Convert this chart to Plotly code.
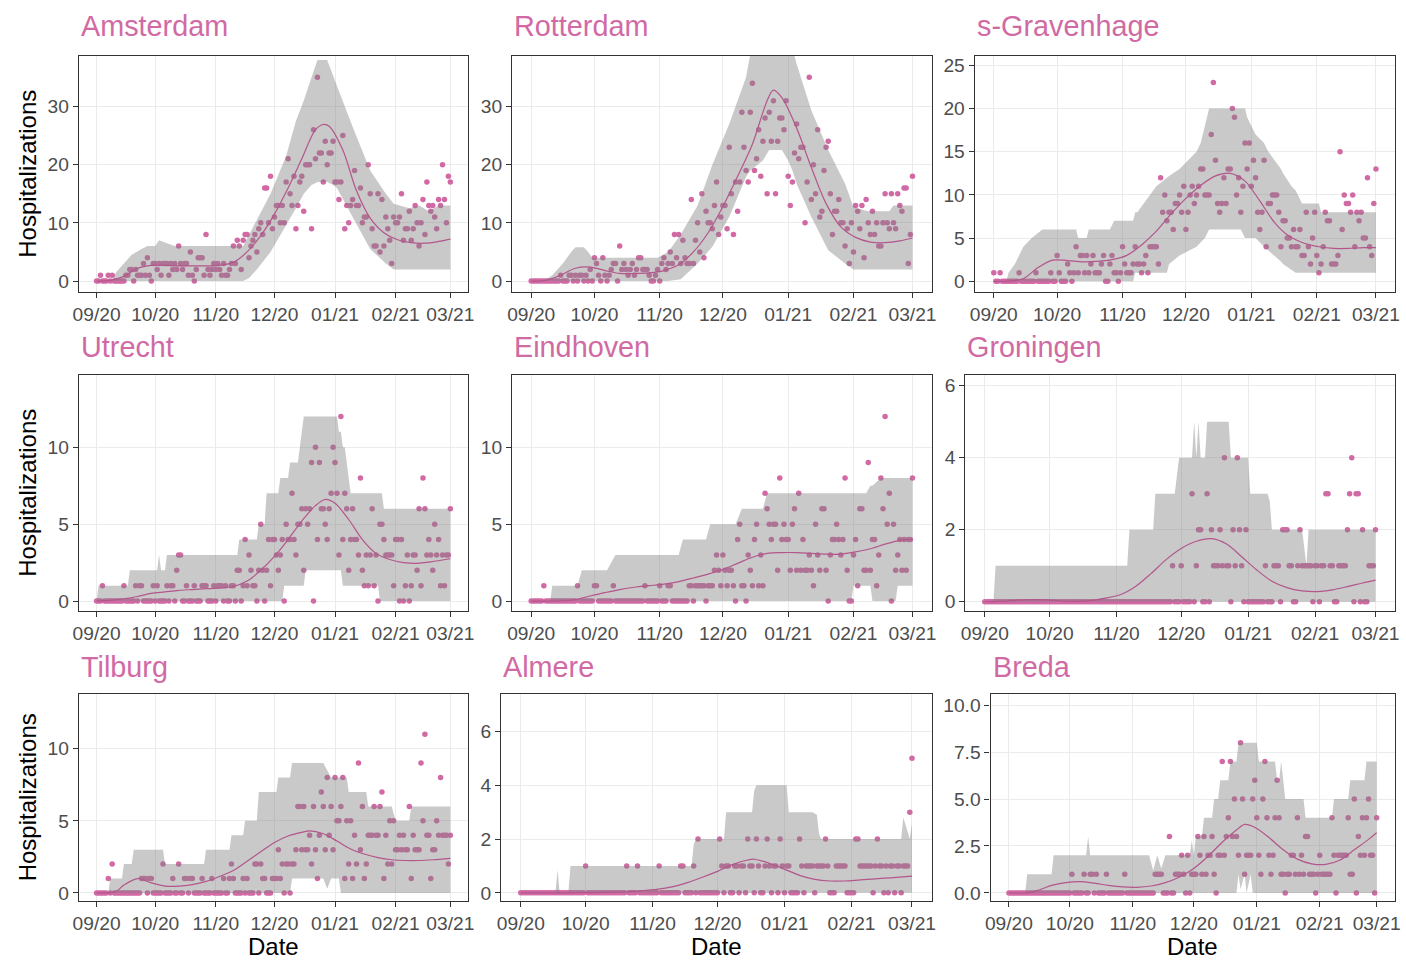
import datetime as dt
import plotly.graph_objects as go

# ---------------------------------------------------------------------------
# Daily hospitalizations, 2020-09-01 .. 2021-03-01 (182 days), per city
# ---------------------------------------------------------------------------
START = dt.datetime(2020, 9, 1)
N_DAYS = 182

MONTH_TICKS = ["2020-09-01", "2020-10-01", "2020-11-01", "2020-12-01",
               "2021-01-01", "2021-02-01", "2021-03-01"]
MONTH_LABELS = ["09/20", "10/20", "11/20", "12/20", "01/21", "02/21", "03/21"]

CITIES = ["Amsterdam", "Rotterdam", "s-Gravenhage", "Utrecht", "Eindhoven",
          "Groningen", "Tilburg", "Almere", "Breda"]

AMS_OBS = [
    0, 0, 1, 0, 0, 0, 1, 0, 1, 0,
    0, 0, 0, 0, 0, 1, 1, 2, 2, 0,
    2, 1, 1, 1, 3, 1, 4, 1, 0, 3,
    3, 2, 3, 1, 3, 3, 3, 1, 3, 2,
    3, 2, 6, 3, 2, 3, 3, 1, 5, 1,
    0, 2, 4, 4, 4, 1, 8, 2, 1, 2,
    3, 2, 3, 2, 1, 3, 1, 1, 2, 3,
    6, 3, 7, 6, 2, 7, 8, 8, 4, 6,
    7, 8, 5, 9, 10, 8, 16, 16, 10, 18,
    9, 11, 13, 13, 10, 13, 10, 17, 21, 15,
    13, 18, 9, 13, 17, 18, 12, 20, 20, 20,
    9, 26, 21, 35, 22, 22, 17, 24, 20, 22,
    22, 24, 17, 17, 14, 17, 25, 9, 13, 10,
    13, 14, 19, 13, 13, 16, 10, 11, 11, 20,
    15, 9, 6, 6, 15, 5, 14, 6, 11, 9,
    7, 3, 11, 10, 10, 11, 15, 7, 9, 9,
    12, 7, 9, 13, 10, 6, 10, 14, 8, 17,
    13, 12, 13, 11, 9, 14, 13, 20, 14, 10, 18, 17,
]
AMS_FIT_DAY = [0, 7, 14, 21, 28, 35, 42, 49, 56, 63, 70, 77, 84, 91, 98, 105,
               112, 116, 119, 126, 133, 140, 147, 154, 161, 168, 175, 181]
AMS_FIT = [0.0, 0.1, 0.8, 2.2, 2.7, 2.7, 2.6, 2.6, 2.6, 2.7, 3.2, 5.0, 7.8, 11.5,
           16.0, 21.0, 26.0, 26.9, 26.6, 22.5, 15.5, 10.8, 8.3, 7.1, 6.6, 6.5,
           6.8, 7.2]
AMS_BAND_DAY = [0, 8, 10, 14, 18, 23, 26, 30, 32, 36, 40, 75, 78, 82, 89, 97,
                102, 106, 110, 113, 118, 121, 123, 131, 140, 148, 152, 160, 165,
                170, 175, 181]
AMS_BAND_LO = [0, 0, 0, 0, 0, 0, 0, 0, 0, 0, 0, 0, 0.5, 2, 5, 9.5, 12.5, 15,
               16.5, 17, 17, 16.5, 16, 11, 5.5, 3, 2, 2, 2, 2, 2, 2]
AMS_BAND_HI = [0, 0, 1.5, 3, 4.5, 5.5, 6, 6, 7, 6.5, 6, 6, 8, 10.5, 15, 21.5,
               27.5, 31, 35, 38, 38, 35.5, 33.5, 26.5, 19, 15, 13.3, 12.5, 13,
               12, 13, 13]

ROT_OBS = [
    0, 0, 0, 0, 0, 0, 0, 0, 0, 0,
    0, 0, 0, 0, 1, 0, 0, 0, 1, 1,
    0, 1, 0, 1, 1, 0, 1, 0, 2, 0,
    4, 3, 1, 0, 4, 1, 0, 1, 2, 3,
    3, 0, 6, 2, 3, 2, 1, 2, 3, 1,
    2, 4, 4, 2, 2, 2, 1, 0, 0, 1,
    2, 0, 3, 4, 2, 3, 5, 3, 8, 4,
    8, 3, 7, 4, 3, 3, 14, 3, 7, 10,
    5, 15, 4, 12, 10, 10, 9, 13, 17, 8,
    11, 13, 13, 9, 23, 15, 8, 17, 12, 17,
    29, 23, 19, 17, 29, 34, 19, 21, 26, 18,
    24, 28, 15, 29, 24, 31, 15, 24, 28, 28,
    26, 31, 18, 13, 17, 22, 27, 21, 23, 23,
    10, 17, 35, 14, 20, 15, 26, 11, 12, 19,
    23, 24, 15, 8, 12, 12, 14, 10, 10, 6,
    9, 3, 10, 5, 13, 12, 9, 13, 4, 14,
    10, 8, 12, 8, 10, 6, 6, 10, 15, 10,
    9, 15, 10, 9, 15, 13, 12, 16, 16, 3, 8, 18,
]
ROT_FIT_DAY = [0, 7, 14, 21, 28, 35, 42, 49, 56, 63, 70, 77, 84, 91, 98, 105,
               112, 115, 119, 126, 133, 140, 147, 154, 161, 168, 175, 181]
ROT_FIT = [0.0, 0.1, 1.0, 2.2, 2.4, 1.8, 1.3, 1.3, 1.4, 1.8, 2.8, 5.0, 8.3, 12.8,
           18.0, 23.5, 31.0, 32.8, 31.5, 26.3, 19.5, 13.3, 9.3, 7.5, 6.7, 6.6,
           6.9, 7.4]
ROT_BAND_DAY = [0, 6, 10, 15, 19, 21, 25, 27, 29, 60, 65, 71, 79, 86, 94, 102,
                104, 110, 113, 119, 122, 124, 126, 133, 141, 149, 153, 160, 170,
                172, 181]
ROT_BAND_LO = [0, 0, 0, 0, 0, 0, 0, 0, 0, 0, 0, 0.3, 3, 5.9, 11, 17.9, 19, 20.7,
               22.5, 22.5, 20.7, 19, 16.7, 11, 5.3, 3, 2, 2, 2, 2, 2]
ROT_BAND_HI = [0, 0, 1, 3, 5, 5.8, 5.8, 5, 4, 4, 5, 8, 13, 20, 27, 35, 39, 42,
               42, 42, 42, 40, 37.3, 29.3, 22.5, 16.7, 12.7, 12, 12, 13, 13]

SGR_OBS = [
    1, 0, 0, 1, 0, 0, 0, 0, 0, 0,
    0, 0, 1, 0, 0, 0, 0, 0, 0, 0,
    1, 0, 0, 0, 0, 0, 0, 1, 0, 0,
    3, 1, 0, 0, 0, 2, 1, 0, 1, 4,
    1, 3, 3, 1, 3, 1, 2, 3, 1, 1,
    1, 2, 3, 0, 0, 2, 3, 1, 1, 0,
    1, 4, 2, 1, 1, 1, 2, 4, 2, 2,
    1, 2, 3, 1, 4, 4, 4, 4, 2, 12,
    8, 10, 7, 8, 8, 6, 9, 9, 10, 8,
    11, 6, 8, 10, 11, 9, 10, 11, 13, 13,
    10, 10, 10, 17, 23, 14, 9, 8, 9, 12,
    9, 13, 13, 20, 19, 10, 12, 8, 11, 16,
    13, 16, 11, 14, 12, 8, 6, 8, 14, 4,
    9, 9, 10, 10, 10, 8, 4, 7, 7, 5,
    5, 4, 6, 4, 4, 6, 3, 3, 8, 4,
    2, 5, 8, 3, 1, 2, 4, 8, 7, 7,
    2, 2, 2, 3, 15, 6, 10, 9, 9, 8,
    10, 4, 8, 7, 8, 5, 5, 12, 4, 3, 9, 13,
]
SGR_FIT_DAY = [0, 7, 14, 21, 28, 35, 42, 49, 56, 63, 70, 77, 84, 91, 98, 105,
               112, 119, 126, 133, 140, 147, 154, 161, 168, 175, 181]
SGR_FIT = [0.0, 0.02, 0.3, 1.6, 2.45, 2.4, 2.25, 2.3, 2.5, 3.0, 4.2, 5.8, 7.8,
           9.6, 11.1, 12.2, 12.5, 11.6, 9.3, 6.8, 5.2, 4.4, 4.0, 3.8, 3.8, 3.9,
           3.9]
SGR_BAND_DAY = [0, 6, 7, 10, 12, 14, 18, 23, 39, 40, 44, 45, 55, 57, 66, 67, 68,
                74, 77, 82, 83, 88, 96, 98, 100, 102, 117, 119, 120, 124, 128,
                130, 133, 136, 137, 141, 143, 144, 146, 154, 155, 181]
SGR_BAND_LO = [0, 0, 0, 0, 0, 0, 0, 0, 0, 0, 0, 0, 0, 0, 0, 1, 1, 1, 1, 1, 2, 3,
               4, 4.5, 5, 6, 6, 5, 5, 5, 4, 3.6, 3, 2.3, 2, 1.3, 1, 1, 1, 1, 1, 1]
SGR_BAND_HI = [0, 0, 1, 2, 3, 4, 5, 6, 6, 5, 5, 6, 6, 7, 7, 8, 8, 10, 11, 12,
               12.2, 13, 15, 16, 18, 20, 20, 20, 19, 17, 16, 15, 14, 13, 12.5,
               11, 10.5, 10, 9, 9, 8, 8]

UTR_OBS = [
    0, 0, 0, 1, 0, 0, 0, 0, 0, 0,
    0, 0, 0, 0, 1, 0, 0, 0, 0, 0,
    1, 0, 1, 1, 0, 0, 0, 0, 0, 1,
    0, 1, 0, 0, 0, 0, 1, 0, 1, 1,
    0, 2, 3, 3, 0, 0, 1, 0, 0, 0,
    1, 0, 0, 0, 1, 1, 1, 0, 0, 0,
    1, 0, 1, 1, 1, 0, 1, 0, 0, 1,
    1, 0, 2, 2, 0, 1, 4, 1, 3, 2,
    1, 1, 0, 2, 5, 2, 0, 2, 4, 1,
    4, 4, 3, 2, 3, 4, 0, 5, 4, 4,
    7, 4, 3, 5, 5, 6, 2, 6, 5, 6,
    9, 0, 10, 4, 9, 6, 6, 5, 4, 6,
    7, 10, 9, 7, 3, 12, 4, 7, 6, 2,
    4, 6, 4, 4, 3, 8, 2, 1, 3, 1,
    3, 6, 1, 3, 0, 5, 5, 4, 3, 3,
    3, 3, 1, 4, 4, 0, 4, 0, 1, 3,
    0, 1, 3, 3, 2, 6, 1, 8, 6, 3,
    4, 3, 2, 5, 3, 4, 1, 3, 1, 3, 3, 6,
]
UTR_FIT_DAY = [0, 7, 14, 21, 28, 35, 42, 49, 56, 63, 70, 77, 84, 91, 98, 105,
               112, 117, 122, 129, 136, 143, 150, 157, 164, 171, 181]
UTR_FIT = [0.0, 0.05, 0.15, 0.3, 0.5, 0.6, 0.7, 0.75, 0.8, 0.85, 0.95, 1.3, 2.0,
           2.9, 4.0, 5.2, 6.2, 6.6, 6.35, 5.3, 4.0, 3.1, 2.7, 2.5, 2.45, 2.55,
           2.75]
UTR_BAND_DAY = [0, 1, 16, 17, 31, 32, 33, 35, 36, 72, 73, 82, 83, 86, 87, 93, 94,
                95, 96, 98, 99, 103, 104, 105, 106, 107, 123, 124, 125, 126, 127,
                128, 129, 130, 144, 145, 146, 147, 181]
UTR_BAND_LO = [0, 0, 0, 0, 0, 0, 0, 0, 0, 0, 0, 0, 0, 0, 0, 0, 0, 0,
               1, 1, 1, 1, 1, 1, 1, 2, 2, 2, 2, 1, 1, 1, 1, 1, 1, 0, 0, 0, 0]
UTR_BAND_HI = [0, 1, 1, 2, 2, 3, 2, 2, 3, 3, 4, 4, 5, 5, 7, 7, 8, 8, 8, 8, 9, 9,
               10, 11, 12, 12, 12, 11, 11, 10, 10, 9, 8, 7, 7, 7, 7, 6, 6]

EIN_OBS = [
    0, 0, 0, 0, 0, 0, 1, 0, 0, 0,
    0, 0, 0, 0, 0, 0, 0, 0, 0, 0,
    0, 0, 1, 0, 0, 0, 0, 0, 0, 0,
    1, 1, 0, 0, 0, 0, 0, 0, 0, 1,
    0, 0, 0, 0, 0, 0, 0, 0, 0, 0,
    0, 0, 0, 0, 1, 0, 0, 0, 0, 0,
    0, 1, 0, 0, 0, 1, 1, 0, 0, 0,
    0, 0, 0, 0, 0, 1, 1, 0, 1, 1,
    1, 1, 1, 0, 1, 1, 1, 2, 3, 2,
    1, 3, 2, 1, 2, 2, 1, 0, 4, 5,
    1, 1, 0, 3, 2, 1, 4, 5, 1, 3,
    1, 7, 6, 5, 4, 5, 5, 2, 8, 4,
    5, 4, 4, 2, 5, 6, 2, 7, 2, 4,
    2, 2, 3, 2, 1, 5, 3, 2, 6, 6,
    2, 0, 3, 4, 4, 5, 4, 3, 4, 8,
    2, 0, 0, 3, 4, 1, 6, 6, 2, 2,
    9, 2, 4, 4, 1, 3, 8, 6, 12, 5,
    7, 0, 5, 2, 3, 4, 2, 4, 2, 4, 4, 8,
]
EIN_FIT_DAY = [0, 7, 14, 21, 28, 35, 42, 49, 56, 63, 70, 77, 84, 91, 98, 105,
               112, 119, 126, 133, 140, 147, 154, 161, 168, 175, 181]
EIN_FIT = [0.0, 0.0, 0.02, 0.1, 0.33, 0.55, 0.75, 0.9, 1.0, 1.1, 1.27, 1.5, 1.75,
           2.05, 2.45, 2.85, 3.1, 3.15, 3.15, 3.1, 3.05, 3.05, 3.2, 3.4, 3.7,
           3.95, 4.0]
EIN_BAND_DAY = [0, 9, 10, 22, 24, 36, 38, 40, 70, 72, 83, 85, 97, 100, 110, 112,
                152, 153, 159, 161, 162, 166, 173, 174, 181]
EIN_BAND_LO = [0, 0, 0, 0, 0, 0, 0, 0, 0, 0, 0, 0, 0, 0, 0, 0, 0,
               1, 1, 1, 0, 0, 0, 1, 1]
EIN_BAND_HI = [0, 0, 1, 1, 2, 2, 2.5, 3, 3, 4, 4, 5, 5, 6, 6, 7, 7, 7, 7, 7.5,
               7.5, 8, 8, 8, 8]

GRO_OBS = [
    0, 0, 0, 0, 0, 0, 0, 0, 0, 0,
    0, 0, 0, 0, 0, 0, 0, 0, 0, 0,
    0, 0, 0, 0, 0, 0, 0, 0, 0, 0,
    0, 0, 0, 0, 0, 0, 0, 0, 0, 0,
    0, 0, 0, 0, 0, 0, 0, 0, 0, 0,
    0, 0, 0, 0, 0, 0, 0, 0, 0, 0,
    0, 0, 0, 0, 0, 0, 0, 0, 0, 0,
    0, 0, 0, 0, 0, 0, 0, 0, 0, 0,
    0, 0, 0, 0, 0, 0, 0, 1, 0, 0,
    0, 1, 0, 0, 0, 0, 3, 0, 1, 2,
    2, 0, 0, 3, 0, 2, 1, 1, 1, 2,
    1, 4, 1, 1, 0, 2, 1, 4, 2, 1,
    0, 2, 0, 0, 0, 0, 0, 0, 0, 0,
    1, 0, 0, 0, 1, 1, 1, 0, 2, 2,
    2, 1, 1, 0, 0, 1, 2, 1, 1, 1,
    1, 1, 0, 1, 1, 0, 1, 1, 3, 3,
    1, 1, 0, 0, 1, 1, 1, 1, 2, 3,
    4, 0, 3, 3, 0, 2, 0, 0, 1, 1, 1, 2,
]
GRO_FIT_DAY = [0, 7, 14, 21, 28, 35, 42, 49, 56, 63, 70, 77, 84, 91, 98, 105,
               112, 119, 126, 133, 140, 147, 154, 161, 168, 175, 181]
GRO_FIT = [0.0, 0.01, 0.04, 0.06, 0.05, 0.02, 0.01, 0.03, 0.1, 0.2, 0.43, 0.78,
           1.17, 1.48, 1.68, 1.75, 1.6, 1.25, 0.88, 0.57, 0.39, 0.3, 0.28, 0.33,
           0.42, 0.52, 0.6]
GRO_BAND_DAY = [0, 4, 5, 66, 67, 78, 79, 88, 90, 96, 97, 98, 99, 100, 102, 103,
                113, 114, 122, 123, 131, 132, 133, 134, 147, 149, 150, 181]
GRO_BAND_LO = [0, 0, 0, 0, 0, 0, 0, 0, 0, 0, 0, 0, 0, 0, 0, 0, 0, 0, 0, 0, 0, 0,
               0, 0, 0, 0, 0, 0]
GRO_BAND_HI = [0, 0, 1, 1, 2, 2, 3, 3, 4, 4, 5, 4, 5, 4, 4, 5, 5, 4, 4, 3, 3,
               2.8, 2, 2, 2, 1, 2, 2]

TIL_OBS = [
    0, 0, 0, 0, 0, 0, 1, 0, 2, 0,
    0, 0, 0, 0, 0, 0, 0, 0, 0, 0,
    0, 0, 0, 1, 1, 1, 0, 1, 1, 0,
    0, 0, 0, 0, 2, 0, 0, 0, 0, 1,
    0, 0, 2, 0, 0, 1, 1, 0, 1, 1,
    0, 0, 0, 0, 1, 0, 0, 0, 0, 1,
    0, 0, 0, 0, 0, 1, 0, 0, 1, 2,
    1, 0, 0, 0, 0, 1, 0, 1, 0, 0,
    0, 2, 2, 0, 2, 1, 1, 0, 0, 0,
    1, 1, 1, 3, 1, 2, 0, 2, 2, 0,
    2, 2, 3, 6, 6, 3, 6, 3, 3, 4,
    2, 6, 3, 1, 4, 7, 6, 3, 8, 4,
    6, 3, 8, 5, 5, 6, 8, 1, 5, 2,
    5, 1, 4, 2, 9, 3, 6, 1, 2, 4,
    4, 4, 6, 4, 4, 6, 7, 1, 4, 2,
    5, 2, 5, 3, 3, 4, 3, 4, 3, 3,
    6, 1, 4, 3, 3, 3, 9, 5, 11, 4,
    4, 1, 3, 3, 5, 4, 8, 4, 4, 4, 2, 4,
]
TIL_FIT_DAY = [0, 7, 10, 14, 21, 28, 35, 42, 49, 56, 63, 70, 77, 84, 91, 98, 105,
               109, 116, 123, 130, 137, 144, 151, 158, 165, 172, 181]
TIL_FIT = [0.0, 0.02, 0.1, 0.55, 1.0, 0.7, 0.48, 0.47, 0.58, 0.8, 1.15, 1.55,
           2.2, 2.85, 3.5, 3.95, 4.2, 4.3, 4.1, 3.6, 3.05, 2.7, 2.45, 2.3, 2.25,
           2.25, 2.3, 2.4]
TIL_BAND_DAY = [0, 6, 7, 13, 14, 18, 19, 34, 35, 55, 56, 68, 69, 75, 76, 82, 83,
                92, 93, 99, 100, 116, 118, 120, 124, 125, 128, 129, 138, 139, 151,
                153, 160, 161, 181]
TIL_BAND_LO = [0, 0, 0, 0, 0, 0, 0, 0, 0, 0, 0, 0, 0, 0, 0, 0, 0, 0, 0, 0,
               1, 1, 0.3, 1, 1, 0, 0, 0, 0, 0, 0, 0, 0, 0, 0]
TIL_BAND_HI = [0, 0, 1, 1, 2, 2, 3, 3, 2, 2, 3, 3, 4, 4, 5, 5, 7, 7, 8, 8, 9, 9,
               8.5, 8, 8, 8, 8, 7, 7, 6, 6, 5, 5, 6, 6]

ALM_OBS = [
    0, 0, 0, 0, 0, 0, 0, 0, 0, 0,
    0, 0, 0, 0, 0, 0, 0, 0, 0, 0,
    0, 0, 0, 0, 0, 0, 0, 0, 0, 0,
    1, 0, 0, 0, 0, 0, 0, 0, 0, 0,
    0, 0, 0, 0, 0, 0, 0, 0, 0, 1,
    0, 0, 0, 0, 1, 0, 0, 0, 0, 0,
    0, 0, 0, 0, 1, 0, 0, 0, 0, 0,
    0, 0, 0, 0, 1, 1, 0, 0, 0, 0,
    1, 0, 2, 0, 0, 0, 0, 0, 0, 0,
    0, 0, 2, 1, 0, 1, 1, 0, 0, 1,
    1, 0, 1, 1, 0, 2, 1, 1, 0, 2,
    1, 0, 0, 1, 2, 1, 0, 1, 1, 0,
    2, 1, 0, 1, 1, 0, 0, 0, 0, 2,
    1, 0, 1, 1, 1, 1, 0, 1, 1, 1,
    1, 2, 1, 0, 0, 0, 1, 1, 1, 1,
    1, 0, 0, 0, 0, 2, 2, 1, 1, 1,
    1, 1, 1, 0, 1, 2, 1, 1, 0, 1,
    0, 1, 1, 0, 1, 1, 0, 1, 1, 1, 3, 5,
]
ALM_FIT_DAY = [0, 7, 14, 21, 28, 35, 42, 49, 56, 63, 70, 77, 84, 91, 98, 105,
               108, 115, 122, 129, 136, 143, 150, 157, 164, 171, 181]
ALM_FIT = [0.0, 0.0, 0.0, 0.0, 0.01, 0.01, 0.02, 0.04, 0.08, 0.13, 0.22, 0.38,
           0.58, 0.8, 1.05, 1.22, 1.25, 1.1, 0.88, 0.65, 0.5, 0.44, 0.44, 0.48,
           0.52, 0.56, 0.62]
ALM_BAND_DAY = [0, 16, 17, 18, 22, 23, 79, 80, 81, 94, 95, 107, 108, 109, 123,
                124, 135, 137, 138, 139, 175, 176, 177, 180, 181]
ALM_BAND_LO = [0, 0, 0, 0, 0, 0, 0, 0, 0, 0, 0, 0, 0, 0, 0, 0, 0, 0, 0, 0, 0, 0,
               0, 0, 0]
ALM_BAND_HI = [0, 0, 0.85, 0, 0, 1, 1, 1.8, 2, 2, 3, 3, 3.8, 4, 4, 3, 3, 2.9,
               2.2, 2, 2, 2, 2.8, 2, 2.6]

BRE_OBS = [
    0, 0, 0, 0, 0, 0, 0, 0, 0, 0,
    0, 0, 0, 0, 0, 0, 0, 0, 0, 0,
    0, 0, 0, 0, 0, 0, 0, 0, 0, 0,
    0, 1, 0, 0, 0, 0, 0, 1, 0, 0,
    1, 1, 0, 1, 0, 0, 0, 0, 1, 0,
    0, 0, 0, 0, 0, 0, 0, 1, 0, 0,
    0, 0, 0, 0, 0, 0, 0, 0, 0, 0,
    0, 0, 1, 1, 1, 1, 0, 0, 0, 3,
    0, 0, 1, 1, 1, 2, 1, 0, 2, 0,
    1, 1, 1, 3, 2, 1, 3, 1, 2, 2,
    3, 1, 0, 2, 2, 7, 2, 3, 4, 7,
    3, 5, 3, 2, 8, 5, 1, 2, 2, 2,
    5, 6, 4, 2, 1, 5, 7, 4, 2, 1,
    2, 4, 6, 4, 1, 1, 0, 1, 1, 2,
    2, 1, 4, 1, 2, 1, 3, 3, 1, 1,
    1, 0, 1, 2, 1, 1, 1, 1, 1, 4,
    2, 0, 2, 2, 2, 2, 2, 4, 1, 1,
    5, 0, 3, 2, 4, 2, 4, 5, 2, 2, 0, 4,
]
BRE_FIT_DAY = [0, 7, 10, 14, 21, 28, 35, 42, 49, 56, 63, 70, 77, 84, 91, 98, 105,
               112, 116, 121, 128, 135, 142, 149, 156, 163, 170, 177, 181]
BRE_FIT = [0.0, 0.0, 0.02, 0.12, 0.4, 0.55, 0.6, 0.52, 0.4, 0.32, 0.3, 0.37,
           0.55, 0.85, 1.3, 1.95, 2.7, 3.35, 3.65, 3.5, 2.95, 2.3, 1.8, 1.55,
           1.52, 1.75, 2.3, 2.85, 3.2]
BRE_BAND_DAY = [0, 8, 9, 21, 22, 38, 39, 40, 69, 71, 73, 75, 77, 79, 89, 90, 91,
                92, 95, 96, 100, 101, 103, 104, 108, 109, 112, 113, 114, 116, 117,
                119, 120, 122, 123, 131, 132, 133, 134, 135, 136, 145, 146, 159,
                160, 167, 168, 175, 176, 181]
BRE_BAND_LO = [0, 0, 0, 0, 0, 0, 0, 0, 0, 0, 0, 0, 0, 0, 0, 0, 0, 0, 0, 0, 0, 0,
               0, 0, 0, 0, 0, 1, 0.2, 1, 0, 1, 0, 0, 0, 0, 0, 0, 0, 0, 0, 0, 0,
               0, 0, 0, 0, 0, 0, 0]
BRE_BAND_HI = [0, 0, 1, 1, 2, 2, 3, 2, 2, 1.2, 2, 1.3, 2, 2, 2, 2.8, 2, 3, 3, 4,
               4, 5, 5, 6, 6, 7, 7, 8, 8, 8, 8, 8, 8, 8, 7, 7, 6, 6, 7, 6, 5, 5,
               4, 4, 5, 5, 6, 6, 7, 7]

# ---------------------------------------------------------------------------
# Panel table (built from the arrays above) and panel styling
# ---------------------------------------------------------------------------
SERIES = [
    (AMS_OBS, AMS_FIT_DAY, AMS_FIT, AMS_BAND_DAY, AMS_BAND_LO, AMS_BAND_HI),
    (ROT_OBS, ROT_FIT_DAY, ROT_FIT, ROT_BAND_DAY, ROT_BAND_LO, ROT_BAND_HI),
    (SGR_OBS, SGR_FIT_DAY, SGR_FIT, SGR_BAND_DAY, SGR_BAND_LO, SGR_BAND_HI),
    (UTR_OBS, UTR_FIT_DAY, UTR_FIT, UTR_BAND_DAY, UTR_BAND_LO, UTR_BAND_HI),
    (EIN_OBS, EIN_FIT_DAY, EIN_FIT, EIN_BAND_DAY, EIN_BAND_LO, EIN_BAND_HI),
    (GRO_OBS, GRO_FIT_DAY, GRO_FIT, GRO_BAND_DAY, GRO_BAND_LO, GRO_BAND_HI),
    (TIL_OBS, TIL_FIT_DAY, TIL_FIT, TIL_BAND_DAY, TIL_BAND_LO, TIL_BAND_HI),
    (ALM_OBS, ALM_FIT_DAY, ALM_FIT, ALM_BAND_DAY, ALM_BAND_LO, ALM_BAND_HI),
    (BRE_OBS, BRE_FIT_DAY, BRE_FIT, BRE_BAND_DAY, BRE_BAND_LO, BRE_BAND_HI),
]

W, H = 1406, 961
# plot-area boxes in pixels: left, top, right, bottom
BOXES = [
    (73.5, 55, 466, 292), (510.5, 55, 933.5, 292), (977, 55, 1401, 292),
    (73.5, 375, 466, 612), (510.5, 375, 933.5, 612), (967.5, 375, 1401, 612),
    (73.5, 695, 466, 903), (499.5, 695, 933.5, 903), (993, 695, 1401, 903),
]
Y_RANGES = [(-1.9, 38.7), (-1.9, 38.7), (-1.25, 26.1),
            (-0.65, 14.7), (-0.65, 14.7), (-0.26, 6.3),
            (-0.57, 13.8), (-0.31, 7.4), (-0.44, 10.6)]
Y_DTICK = [10, 10, 5, 5, 5, 2, 5, 2, 2.5]
Y_FORMAT = ["d", "d", "d", "d", "d", "d", "d", "d", ".1f"]
TITLE_ROW_Y = [25, 347, 668]

FONT = "Liberation Sans, Arial, Helvetica, sans-serif"
PINK = "#D16AA4"
LINE_PINK = "#B3568B"
BAND_FILL = "rgba(127,127,127,0.42)"
GRID = "#EBEBEB"
FRAME = "#333333"


def to_date(day):
    return (START + dt.timedelta(days=day)).strftime("%Y-%m-%d %H:%M:%S")


obs_dates = [to_date(d) for d in range(N_DAYS)]
x_pad = 0.05 * (N_DAYS - 1)
x_range = [to_date(-x_pad), to_date(N_DAYS - 1 + x_pad)]

fig = go.Figure()
layout = dict(
    width=W, height=H,
    margin=dict(l=0, r=0, t=0, b=0),
    paper_bgcolor="white", plot_bgcolor="white",
    showlegend=False,
    font=dict(family=FONT),
)
annotations = []

for i, (name, series) in enumerate(zip(CITIES, SERIES)):
    obs, fit_day, fit, band_day, band_lo, band_hi = series
    assert len(obs) == N_DAYS, name
    assert len(fit_day) == len(fit), name
    assert len(band_day) == len(band_lo) == len(band_hi), name

    sfx = "" if i == 0 else str(i + 1)
    xa, ya = "x" + sfx, "y" + sfx

    # observed daily counts
    fig.add_trace(go.Scatter(
        x=obs_dates, y=obs, mode="markers", xaxis=xa, yaxis=ya,
        marker=dict(size=5.5, color=PINK, line=dict(width=0)),
        hoverinfo="x+y",
    ))
    # prediction band (semi-transparent, drawn over the points)
    bx = [to_date(d) for d in band_day]
    fig.add_trace(go.Scatter(
        x=bx, y=band_lo, mode="lines", xaxis=xa, yaxis=ya,
        line=dict(width=0), hoverinfo="skip",
    ))
    fig.add_trace(go.Scatter(
        x=bx, y=band_hi, mode="lines", xaxis=xa, yaxis=ya,
        line=dict(width=0), fill="tonexty", fillcolor=BAND_FILL,
        hoverinfo="skip",
    ))
    # fitted mean curve
    fig.add_trace(go.Scatter(
        x=[to_date(d) for d in fit_day], y=fit, mode="lines",
        xaxis=xa, yaxis=ya,
        line=dict(color=LINE_PINK, width=1.2, shape="spline", smoothing=0.9),
        hoverinfo="skip",
    ))

    left, top, right, bottom = BOXES[i]
    axis_common = dict(
        showgrid=True, gridcolor=GRID, gridwidth=1.4,
        showline=True, mirror=True, linecolor=FRAME, linewidth=1.2,
        ticks="outside", ticklen=5, tickwidth=1.2, tickcolor=FRAME,
        tickfont=dict(family=FONT, size=19.2, color="#4D4D4D"),
        zeroline=False, fixedrange=True,
    )
    layout["xaxis" + sfx] = dict(
        axis_common,
        domain=[left / W, right / W],
        anchor=ya, type="date", range=x_range,
        tickmode="array", tickvals=MONTH_TICKS, ticktext=MONTH_LABELS,
    )
    layout["yaxis" + sfx] = dict(
        axis_common,
        domain=[1 - bottom / H, 1 - top / H],
        anchor=xa, range=list(Y_RANGES[i]),
        tick0=0, dtick=Y_DTICK[i], tickformat=Y_FORMAT[i],
    )

    # panel title
    annotations.append(dict(
        text=name, xref="paper", yref="paper",
        x=left / W, y=1 - TITLE_ROW_Y[i // 3] / H,
        xanchor="left", yanchor="middle", showarrow=False,
        font=dict(family=FONT, size=28.8, color=PINK),
    ))

# shared axis titles
for r in range(3):
    top, bottom = BOXES[3 * r][1], BOXES[3 * r][3]
    annotations.append(dict(
        text="Hospitalizations", xref="paper", yref="paper",
        x=22 / W, y=1 - (top + bottom) / 2 / H,
        xanchor="center", yanchor="middle", textangle=-90, showarrow=False,
        font=dict(family=FONT, size=24, color="black"),
    ))
for c in range(3):
    left, right = BOXES[6 + c][0], BOXES[6 + c][2]
    annotations.append(dict(
        text="Date", xref="paper", yref="paper",
        x=(left + right) / 2 / W, y=1 - 948 / H,
        xanchor="center", yanchor="middle", showarrow=False,
        font=dict(family=FONT, size=24, color="black"),
    ))

layout["annotations"] = annotations
fig.update_layout(**layout)
fig.write_html("out.html")
